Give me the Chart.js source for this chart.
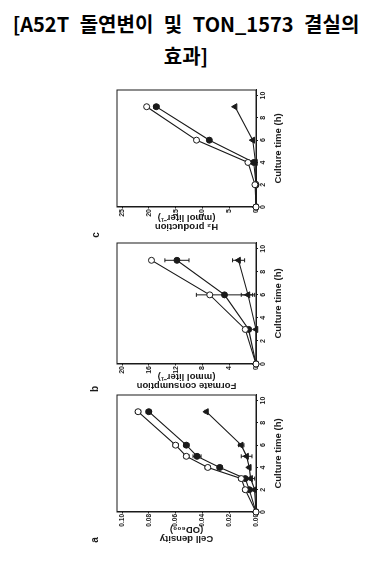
<!DOCTYPE html>
<html><head><meta charset="utf-8">
<script src="https://cdn.jsdelivr.net/npm/chart.js@4"></script>
<style>
html,body{margin:0;padding:0;background:#fff;}
body{width:372px;height:573px;position:relative;overflow:hidden;}
#title{position:absolute;left:0;top:8px;width:372px;text-align:center;font-family:"Noto Sans CJK KR",sans-serif;font-weight:700;font-size:20px;line-height:32px;word-spacing:6px;color:#000;}
.panel{position:absolute;}
.panel canvas{position:absolute;left:0;top:0;transform-origin:0 0;}
</style></head><body>
<div id="title">[A52T 돌연변이 및 TON_1573 결실의<br>효과]</div>
<div class="panel" id="wrapC"><canvas id="chartC"></canvas></div>
<div class="panel" id="wrapB"><canvas id="chartB"></canvas></div>
<div class="panel" id="wrapA"><canvas id="chartA"></canvas></div>
<script>
// ---------- DATA ----------
// Panel a: cell density (OD600)
const timeA = [0, 2, 3, 4, 5, 6, 9];
const cellOpen = [0, 0.008, 0.011, 0.036, 0.052, 0.060, 0.088];
const cellOpenErr = [0, 0.002, 0.002, 0.002, 0.002, 0.002, 0.002];
const cellFilled = [0, 0.005, 0.008, 0.027, 0.044, 0.052, 0.080];
const cellFilledErr = [0, 0.002, 0.003, 0.002, 0.003, 0.002, 0.002];
const cellTri = [0, 0.001, 0.004, 0.005, 0.007, 0.011, 0.037];
const cellTriErr = [0, 0.001, 0.003, 0.001, 0.004, 0.002, 0.001];
const cellTicks = [0, 0.02, 0.04, 0.06, 0.08, 0.10];

// Panel b: formate consumption (mmol liter-1)
const timeB = [0, 3, 6, 9];
const formOpen = [0, 1.6, 6.9, 15.6];
const formOpenErr = [0, 0, 0, 0];
const formFilled = [0, 1.1, 4.7, 11.8];
const formFilledErr = [0, 0.3, 4.2, 1.8];
const formTri = [0, 0, 1.2, 2.6];
const formTriErr = [0, 0, 1.0, 0.9];
const formTicks = [0, 4, 8, 12, 16, 20];

// Panel c: H2 production (mmol liter-1)
const timeC = [0, 2, 4, 6, 9];
const h2Open = [0, 0.2, 1.5, 11.1, 20.4];
const h2OpenErr = [0, 0, 0, 0, 0];
const h2Filled = [0, 0, 0.4, 8.7, 18.6];
const h2FilledErr = [0, 0, 0, 0, 0.5];
const h2Tri = [0, 0, 0.1, 0.6, 3.9];
const h2TriErr = [0, 0, 0, 0, 0];
const h2Ticks = [0, 5, 10, 15, 20, 25];

const timeTicks = [0, 2, 4, 6, 8, 10];
const timeTitle = 'Culture time (h)';

// ---------- LAYOUT ----------
const FONT = '"Liberation Sans", Arial, sans-serif';
const INK = '#1a1a1a';
const TMAX = 10.5;

const framePlugin = {
  id: 'frameErr',
  beforeDatasetsDraw(chart) {
    const {ctx, chartArea: a, scales} = chart;
    ctx.save();
    ctx.strokeStyle = INK; ctx.lineWidth = 1;
    ctx.strokeRect(a.left, a.top, a.right - a.left, a.bottom - a.top);
    chart.data.datasets.forEach(ds => {
      if (!ds.err) return;
      ds.data.forEach((p, i) => {
        const e = ds.err[i];
        if (!e) return;
        const x = scales.x.getPixelForValue(p.x);
        const y1 = scales.y.getPixelForValue(Math.max(0, p.y - e));
        const y2 = scales.y.getPixelForValue(p.y + e);
        ctx.beginPath();
        ctx.moveTo(x, y1); ctx.lineTo(x, y2);
        ctx.moveTo(x - 2, y1); ctx.lineTo(x + 2, y1);
        ctx.moveTo(x - 2, y2); ctx.lineTo(x + 2, y2);
        ctx.stroke();
      });
    });
    ctx.restore();
  },
  afterDraw(chart, args, opts) {
    if (!opts.letter) return;
    const ctx = chart.ctx;
    ctx.save();
    ctx.fillStyle = INK;
    ctx.font = 'bold 10px ' + FONT;
    ctx.textAlign = 'center'; ctx.textBaseline = 'middle';
    ctx.fillText(opts.letter, opts.lu, opts.lv);
    ctx.restore();
  }
};

function series(times, vals, errs, style) {
  return Object.assign({
    data: times.map((t, i) => ({x: t, y: vals[i]})),
    err: errs,
    borderColor: INK, borderWidth: 1.1,
    pointBorderColor: INK, pointBorderWidth: 1,
    clip: false, tension: 0
  }, style);
}

function makePanel(cfg) {
  const H = 212, x0 = 82, padTop = 35, xAxisH = 38;
  const plotW = TMAX * cfg.hourPx;
  const W = Math.round(cfg.axisW + plotW + 7);
  const padRight = W - cfg.axisW - plotW;
  const pageBottom = cfg.zeroY + cfg.axisW;
  const y0 = pageBottom - W;
  const wrap = document.getElementById(cfg.wrap);
  wrap.style.left = x0 + 'px'; wrap.style.top = y0 + 'px';
  wrap.style.width = H + 'px'; wrap.style.height = W + 'px';
  const cv = document.getElementById(cfg.canvas);
  cv.width = W; cv.height = H;
  cv.style.width = W + 'px'; cv.style.height = H + 'px';
  cv.style.transform = 'translate(0px,' + W + 'px) rotate(-90deg)';
  const vmax = cfg.ticks[cfg.ticks.length - 1] * 139 / 134;
  const tickFont = {family: FONT, size: cfg.tickSize, weight: 'bold'};
  const titleFont = {family: FONT, size: 9.5, weight: 'bold', lineHeight: 0.9};
  new Chart(cv, {
    type: 'line',
    data: {datasets: [
      series(cfg.t, cfg.open, cfg.openErr, {pointStyle: 'circle', pointRadius: 3, pointBackgroundColor: '#fff'}),
      series(cfg.t, cfg.filled, cfg.filledErr, {pointStyle: 'circle', pointRadius: 3, pointBackgroundColor: INK}),
      series(cfg.t, cfg.tri, cfg.triErr, {pointStyle: 'triangle', pointRadius: 3.5, pointBackgroundColor: INK})
    ]},
    options: {
      responsive: false, animation: false, devicePixelRatio: 1,
      layout: {padding: {top: padTop, right: padRight, left: 0, bottom: 0}},
      plugins: {legend: {display: false}, tooltip: {enabled: false},
        frameErr: {letter: cfg.letter, lu: pageBottom - cfg.letterY, lv: cfg.letterX - x0}},
      scales: {
        x: {type: 'linear', min: 0, max: TMAX,
          afterBuildTicks: s => { s.ticks = timeTicks.map(v => ({value: v})); },
          afterFit: s => { s.height = xAxisH; },
          ticks: {font: {family: FONT, size: 7, weight: 'bold'}, color: INK, padding: 1, minRotation: 0, maxRotation: 0, autoSkip: false},
          grid: {drawOnChartArea: false, tickLength: 2, color: INK},
          border: {display: true, color: INK},
          title: {display: true, text: timeTitle, font: titleFont, color: INK, padding: {top: 0, bottom: 11.5}}
        },
        y: {type: 'linear', min: 0, max: vmax,
          afterBuildTicks: s => { s.ticks = cfg.ticks.map(v => ({value: v})); },
          afterFit: s => { s.width = cfg.axisW; },
          ticks: {font: tickFont, color: INK, padding: 0.5, callback: v => cfg.fmt(v)},
          grid: {drawOnChartArea: false, tickLength: 1.5, color: INK},
          border: {display: true, color: INK},
          title: {display: true, text: cfg.yTitle, font: titleFont, color: INK, padding: {top: 9.4, bottom: 0}}
        }
      }
    },
    plugins: [framePlugin]
  });
}

makePanel({wrap: 'wrapC', canvas: 'chartC', zeroY: 207, hourPx: 117 / TMAX, axisW: 33, tickSize: 7,
  t: timeC, open: h2Open, openErr: h2OpenErr, filled: h2Filled, filledErr: h2FilledErr, tri: h2Tri, triErr: h2TriErr,
  ticks: h2Ticks, fmt: v => String(v), yTitle: ['H\u2082 production', '(mmol liter\u207B\u00B9)'],
  letter: 'c', letterX: 96, letterY: 235});
makePanel({wrap: 'wrapB', canvas: 'chartB', zeroY: 364, hourPx: 121 / TMAX, axisW: 35, tickSize: 7,
  t: timeB, open: formOpen, openErr: formOpenErr, filled: formFilled, filledErr: formFilledErr, tri: formTri, triErr: formTriErr,
  ticks: formTicks, fmt: v => String(v), yTitle: ['Formate consumption', '(mmol liter\u207B\u00B9)'],
  letter: 'b', letterX: 95, letterY: 389});
makePanel({wrap: 'wrapA', canvas: 'chartA', zeroY: 512, hourPx: 117 / TMAX, axisW: 40, tickSize: 6.5,
  t: timeA, open: cellOpen, openErr: cellOpenErr, filled: cellFilled, filledErr: cellFilledErr, tri: cellTri, triErr: cellTriErr,
  ticks: cellTicks, fmt: v => v.toFixed(2), yTitle: ['Cell density', '(OD\u2086\u2080\u2080)'],
  letter: 'a', letterX: 95, letterY: 540});
</script>
</body></html>
